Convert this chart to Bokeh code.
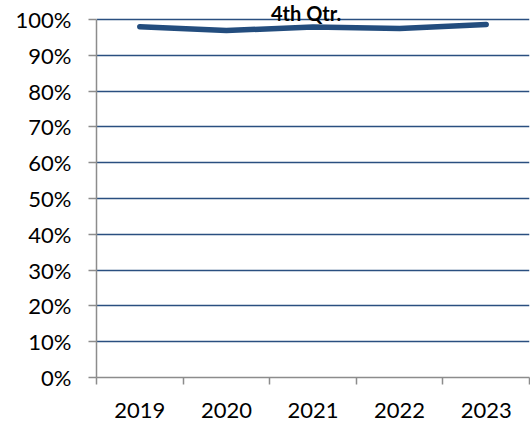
from bokeh.plotting import figure
from bokeh.models import (Range1d, LinearAxis, FixedTicker, NumeralTickFormatter, Label)
from bokeh.embed import file_html
from bokeh.resources import INLINE

title = "4th Qtr."
years = ["2019", "2020", "2021", "2022", "2023"]
values = [0.980, 0.969, 0.979, 0.975, 0.986]
y_ticks = [0.0, 0.1, 0.2, 0.3, 0.4, 0.5, 0.6, 0.7, 0.8, 0.9, 1.0]

FONT = "Lato"
NAVY = "#2A4F80"
GRAY = "#8C8C8C"
Y_TOP = 1.053  # headroom above 100% for the title

n = len(years)
centers = [i + 0.5 for i in range(n)]

p = figure(width=530, height=421, x_range=Range1d(0, n), y_range=Range1d(0, Y_TOP),
           output_backend="svg", toolbar_location=None, x_axis_location=None,
           y_axis_location=None)
p.min_border_left = 96
p.min_border_right = 1
p.min_border_top = 0
p.min_border_bottom = 44
p.outline_line_color = None
p.background_fill_color = "white"
p.border_fill_color = "white"

# y axis
yax = LinearAxis(ticker=FixedTicker(ticks=y_ticks), formatter=NumeralTickFormatter(format="0%"),
                 bounds=(0, 1))
yax.axis_line_color = GRAY
yax.axis_line_width = 1.5
yax.major_tick_line_color = GRAY
yax.major_tick_line_width = 1.5
yax.major_tick_out = 8
yax.major_tick_in = 0
yax.minor_tick_line_color = None
yax.major_label_text_font = FONT
yax.major_label_text_font_size = "22px"
yax.major_label_text_color = "black"
yax.major_label_standoff = 17
p.add_layout(yax, "left")

# x tick marks at category boundaries
xt = LinearAxis(ticker=FixedTicker(ticks=list(range(n + 1))))
xt.major_label_overrides = {i: "" for i in range(n + 1)}
xt.axis_line_color = GRAY
xt.axis_line_width = 1.5
xt.major_tick_line_color = GRAY
xt.major_tick_line_width = 1.5
xt.major_tick_out = 7
xt.major_tick_in = 0
xt.minor_tick_line_color = None
xt.major_label_standoff = 0
xt.major_label_text_font_size = "0px"
p.add_layout(xt, "below")

# category labels
xl = LinearAxis(ticker=FixedTicker(ticks=centers))
xl.major_label_overrides = {c: y for c, y in zip(centers, years)}
xl.axis_line_color = None
xl.major_tick_line_color = None
xl.minor_tick_line_color = None
xl.major_label_text_font = FONT
xl.major_label_text_font_size = "22px"
xl.major_label_text_color = "black"
xl.major_label_standoff = 12
p.add_layout(xl, "below")

p.xgrid.visible = False
p.ygrid.ticker = FixedTicker(ticks=y_ticks[1:])
p.ygrid.grid_line_color = NAVY
p.ygrid.grid_line_width = 1.5

p.line(centers, values, line_color="#234D7E", line_width=5.5, line_join="round", line_cap="round")

p.add_layout(Label(x=2.42, y=Y_TOP, text=title, text_align="center",
                   text_baseline="top", y_offset=0, text_font=FONT,
                   text_font_style="bold", text_font_size="20px", text_color="black"))

open("out.html", "w").write(file_html(p, INLINE))
